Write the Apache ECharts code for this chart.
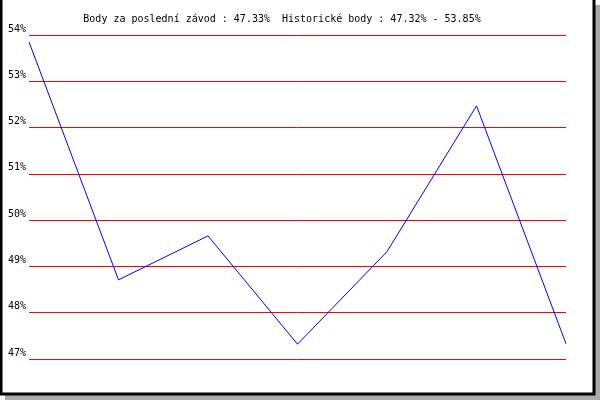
<!DOCTYPE html>
<html>
<head>
<meta charset="utf-8">
<script src="https://cdn.jsdelivr.net/npm/echarts@6/dist/echarts.min.js"></script>
<style>
    html, body { margin: 0; padding: 0; background: #fff; }
    #chart { width: 600px; height: 400px; }
</style>
</head>
<body>
<div id="chart"></div>
<script>
// races (x positions), points per race in percent
const races = ['1', '2', '3', '4', '5', '6', '7']
const points = [53.85, 48.71, 49.66, 47.32, 49.32, 52.47, 47.33]
const yTicks = [47, 48, 49, 50, 51, 52, 53, 54]

const titleText = 'Body za poslední závod : 47.33%  Historické body : 47.32% - 53.85%'
const font = '"DejaVu Sans Mono", monospace'

let chart = echarts.init(document.getElementById('chart'))
chart.setOption({
    animation: false,
    //rámeček se stínem
    graphic: [
        { type: 'rect', shape: { x: 5, y: 5, width: 595, height: 395 }, style: { fill: '#aaaaaa' }, z: -10 },
        { type: 'rect', shape: { x: 1, y: -2, width: 593, height: 396 }, style: { fill: '#fff', stroke: '#000', lineWidth: 3 }, z: -9 }
    ],
    title: {
        text: titleText,
        left: 277,
        textAlign: 'center',
        top: 9,
        textStyle: { fontFamily: font, fontSize: 10, fontWeight: 'normal', color: '#000' }
    },
    grid: {
        left: 29,
        right: 34,
        top: 35,
        bottom: 41,
        containLabel: false
    },
    xAxis: {
        type: 'category',
        boundaryGap: false,
        data: races,
        axisLine: { show: false },
        axisTick: { show: false },
        axisLabel: { show: false },
        splitLine: { show: false }
    },
    yAxis: {
        type: 'value',
        min: yTicks[0],
        max: yTicks[yTicks.length - 1],
        interval: 1,
        axisLine: { show: false },
        axisTick: { show: false },
        axisLabel: {
            formatter: '{value}%',
            fontFamily: font,
            fontSize: 10,
            color: '#000',
            margin: 3,
            verticalAlign: 'bottom',
            lineHeight: 12
        },
        splitLine: { show: true, lineStyle: { color: '#ff0000', width: 1 } }
    },
    series: [
        {
            type: 'line',
            data: points,
            symbol: 'none',
            lineStyle: { color: '#0000ff', width: 1 }
        }
    ]
})
</script>
</body>
</html>
